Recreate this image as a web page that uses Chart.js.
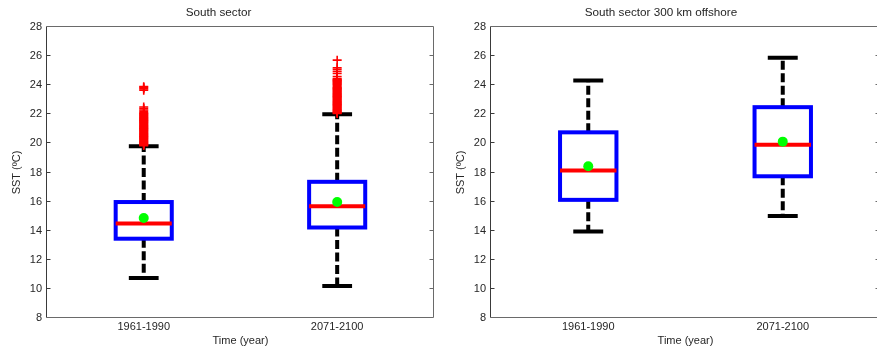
<!DOCTYPE html>
<html>
<head>
<meta charset="utf-8">
<script src="https://cdn.jsdelivr.net/npm/chart.js@4/dist/chart.umd.min.js"></script>
<style>
  html, body { margin: 0; padding: 0; background: #fff; overflow: hidden; width: 877px; height: 354px; }
  canvas.panel { position: absolute; top: 0; }
  #coast { left: 0; }
  #offshore { left: 440px; }
</style>
</head>
<body>
<canvas id="coast" class="panel" width="440" height="354"></canvas>
<canvas id="offshore" class="panel" width="445" height="354"></canvas>
<script>
// Periods compared
const periods = ['1961-1990', '2071-2100'];
const yTicks = [8, 10, 12, 14, 16, 18, 20, 22, 24, 26, 28];

// South sector: SST statistics (ºC) per period
const coastLow    = [10.75, 10.2];
const coastQ1     = [13.45, 14.22];
const coastMedian = [14.5, 15.68];
const coastMean   = [14.87, 15.97];
const coastQ3     = [15.97, 17.36];
const coastHigh   = [19.8, 22.0];
const coastOutliers1961 = [
  19.85, 19.9, 19.95, 20.0, 20.05, 20.1, 20.15, 20.2, 20.25, 20.3, 20.35, 20.4,
  20.45, 20.5, 20.55, 20.6, 20.65, 20.7, 20.75, 20.8, 20.85, 20.9, 20.95, 21.0,
  21.05, 21.1, 21.15, 21.2, 21.25, 21.3, 21.35, 21.4, 21.45, 21.5, 21.55, 21.6,
  21.65, 21.7, 21.75, 21.8, 21.85, 21.9, 21.95, 22.0, 22.05, 22.1, 22.2, 22.3,
  22.4, 22.5, 23.65, 23.75, 23.85, 23.9
];
const coastOutliers2071 = [
  22.05, 22.1, 22.15, 22.2, 22.25, 22.3, 22.35, 22.4, 22.45, 22.5, 22.55, 22.6,
  22.65, 22.7, 22.75, 22.8, 22.85, 22.9, 22.95, 23.0, 23.05, 23.1, 23.15, 23.2,
  23.25, 23.3, 23.35, 23.4, 23.45, 23.5, 23.55, 23.6, 23.65, 23.7, 23.75, 23.8,
  23.85, 23.9, 24.0, 24.05, 24.1, 24.15, 24.2, 24.25, 24.3, 24.35, 24.4, 24.45,
  24.6, 24.8, 24.95, 25.1, 25.2, 25.72
];

// South sector 300 km offshore: SST statistics (ºC) per period
const offLow    = [13.95, 15.01];
const offQ1     = [16.12, 17.74];
const offMedian = [18.13, 19.9];
const offMean   = [18.43, 20.12];
const offQ3     = [20.76, 22.49];
const offHigh   = [24.32, 25.88];

const TEXT = '#262626';
const FONT = 'Arial, "Liberation Sans", sans-serif';

// Box, dashed whiskers, caps and median line, drawn through the chart scales
const boxWhisker = {
  id: 'boxWhisker',
  beforeDatasetsDraw(chart, args, opts) {
    const { ctx, scales: { x, y } } = chart;
    ctx.save();
    opts.q1.forEach((_, i) => {
      const pos = i + 1;
      const cx = x.getPixelForValue(pos);
      const left = x.getPixelForValue(pos - opts.boxHalf);
      const right = x.getPixelForValue(pos + opts.boxHalf);
      const capL = x.getPixelForValue(pos - opts.capHalf);
      const capR = x.getPixelForValue(pos + opts.capHalf);
      const yLow = y.getPixelForValue(opts.low[i]);
      const yQ1 = y.getPixelForValue(opts.q1[i]);
      const yMed = y.getPixelForValue(opts.median[i]);
      const yQ3 = y.getPixelForValue(opts.q3[i]);
      const yHigh = y.getPixelForValue(opts.high[i]);

      // whiskers
      ctx.strokeStyle = '#000';
      ctx.lineWidth = 4;
      ctx.lineCap = 'butt';
      ctx.setLineDash([9, 3.5]);
      ctx.beginPath();
      ctx.moveTo(cx, yQ3); ctx.lineTo(cx, yHigh);
      ctx.moveTo(cx, yQ1); ctx.lineTo(cx, yLow);
      ctx.stroke();
      ctx.setLineDash([]);

      // whisker caps
      ctx.beginPath();
      ctx.moveTo(capL, yHigh); ctx.lineTo(capR, yHigh);
      ctx.moveTo(capL, yLow); ctx.lineTo(capR, yLow);
      ctx.stroke();

      // interquartile box
      ctx.fillStyle = '#fff';
      ctx.fillRect(left, yQ3, right - left, yQ1 - yQ3);
      ctx.strokeStyle = '#0000ff';
      ctx.strokeRect(left, yQ3, right - left, yQ1 - yQ3);

      // median
      ctx.strokeStyle = '#ff0000';
      ctx.beginPath();
      ctx.moveTo(left, yMed); ctx.lineTo(right, yMed);
      ctx.stroke();
    });
    ctx.restore();
  }
};

// Axes frame with inward tick marks on left and right
const frame = {
  id: 'frame',
  afterDraw(chart) {
    const { ctx, chartArea: a, scales: { y } } = chart;
    const l = Math.round(a.left) - 0.5, r = Math.round(a.right) - 0.5;
    const t = Math.round(a.top) - 0.5, b = Math.round(a.bottom) - 0.5;
    ctx.save();
    ctx.lineWidth = 1;
    ctx.strokeStyle = '#6a6a6a';
    ctx.beginPath();
    ctx.moveTo(l, t); ctx.lineTo(r, t); ctx.lineTo(r, b); ctx.lineTo(l, b);
    ctx.stroke();
    ctx.strokeStyle = '#3a3a3a';
    ctx.beginPath();
    ctx.moveTo(l, t); ctx.lineTo(l, b);
    ctx.stroke();
    y.ticks.forEach(tk => {
      if (tk.value === y.min || tk.value === y.max) return;
      const py = Math.round(y.getPixelForValue(tk.value)) - 0.5;
      ctx.strokeStyle = '#3a3a3a';
      ctx.beginPath(); ctx.moveTo(l, py); ctx.lineTo(l + 4, py); ctx.stroke();
      ctx.strokeStyle = '#6a6a6a';
      ctx.beginPath(); ctx.moveTo(r - 4, py); ctx.lineTo(r, py); ctx.stroke();
    });
    ctx.restore();
  }
};

function makeChart(canvasId, title, stats, outlierLists, axisWidth, yTitlePad) {
  const outlierPoints = [];
  outlierLists.forEach((list, i) => list.forEach(v => outlierPoints.push({ x: i + 1, y: v })));
  return new Chart(document.getElementById(canvasId), {
    type: 'scatter',
    data: {
      datasets: [
        {
          label: 'Mean',
          data: stats.mean.map((v, i) => ({ x: i + 1, y: v })),
          pointStyle: 'circle',
          pointRadius: 5,
          backgroundColor: '#00ff00',
          borderWidth: 0
        },
        {
          label: 'Outliers',
          data: outlierPoints,
          pointStyle: 'cross',
          pointRadius: 4.5,
          borderColor: '#ff0000',
          borderWidth: 1.6
        }
      ]
    },
    options: {
      responsive: false,
      animation: false,
      events: [],
      layout: { padding: { top: 0, right: 3, bottom: 0, left: 0 } },
      plugins: {
        legend: { display: false },
        tooltip: { enabled: false },
        title: {
          display: true,
          text: title,
          color: TEXT,
          font: { family: FONT, size: 11.7, weight: 'normal', lineHeight: 1.2 },
          padding: { top: 6, bottom: 6.96 }
        },
        boxWhisker: {
          low: stats.low, q1: stats.q1, median: stats.median, q3: stats.q3, high: stats.high,
          boxHalf: 0.145, capHalf: 0.077
        }
      },
      scales: {
        x: {
          type: 'linear',
          min: 0.5,
          max: 2.5,
          afterBuildTicks(scale) { scale.ticks = periods.map((_, i) => ({ value: i + 1 })); },
          afterFit(scale) { scale.height = 36; },
          grid: { display: false, drawTicks: false },
          border: { display: false },
          ticks: {
            color: TEXT,
            font: { family: FONT, size: 11 },
            padding: 2,
            maxRotation: 0,
            callback: v => periods[v - 1]
          },
          title: {
            display: true,
            text: 'Time (year)',
            color: TEXT,
            font: { family: FONT, size: 11 },
            padding: { top: 0, bottom: 6.7 }
          }
        },
        y: {
          type: 'linear',
          min: 8,
          max: 28,
          afterBuildTicks(scale) { scale.ticks = yTicks.map(v => ({ value: v })); },
          afterFit(scale) { scale.width = axisWidth; },
          grid: { display: false, drawTicks: false },
          border: { display: false },
          ticks: {
            color: TEXT,
            font: { family: FONT, size: 11 },
            padding: 5
          },
          title: {
            display: true,
            text: 'SST (ºC)',
            color: TEXT,
            font: { family: FONT, size: 11 },
            padding: { top: yTitlePad, bottom: 0 }
          }
        }
      }
    },
    plugins: [boxWhisker, frame]
  });
}

makeChart('coast', 'South sector',
  { low: coastLow, q1: coastQ1, median: coastMedian, mean: coastMean, q3: coastQ3, high: coastHigh },
  [coastOutliers1961, coastOutliers2071], 47, 10);

makeChart('offshore', 'South sector 300 km offshore',
  { low: offLow, q1: offQ1, median: offMedian, mean: offMean, q3: offQ3, high: offHigh },
  [[], []], 51, 14);
</script>
</body>
</html>
